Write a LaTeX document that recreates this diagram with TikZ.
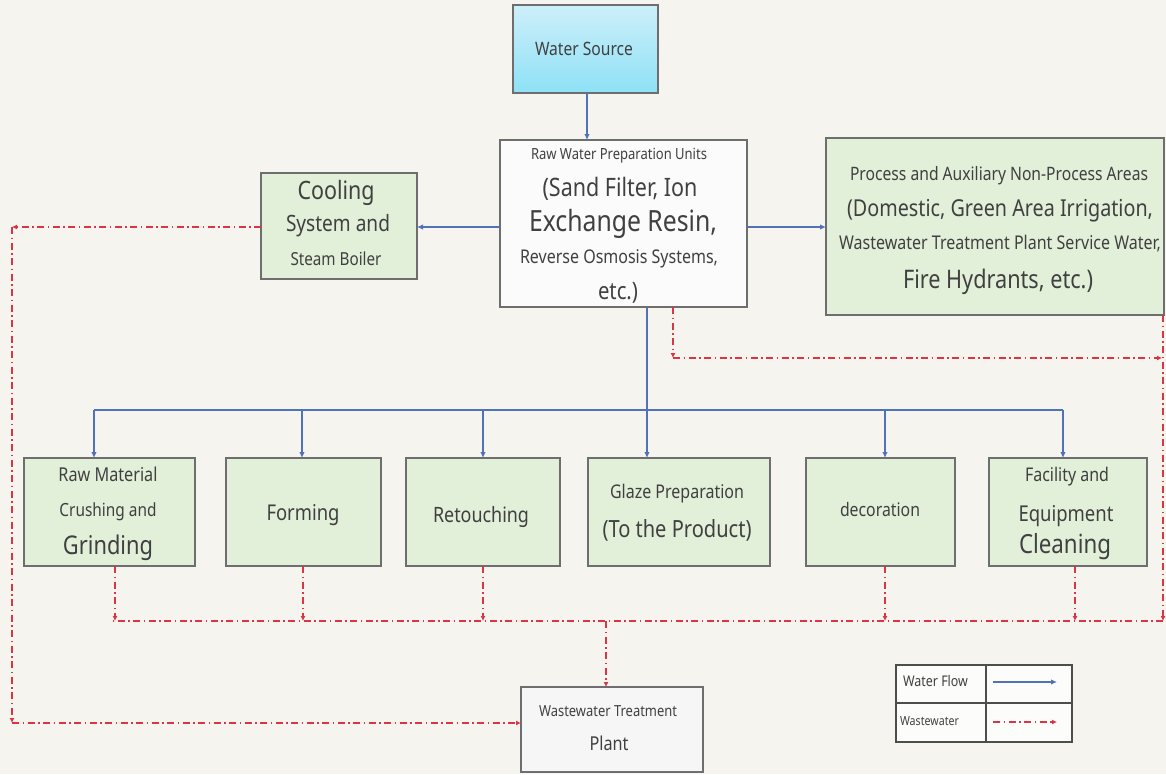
\documentclass[tikz,border=0pt]{standalone}
\usepackage{fontspec}
\usepackage{graphicx}
\setmainfont{Noto Sans}
\usetikzlibrary{arrows.meta}
\definecolor{bg}{HTML}{F6F4EF}
\definecolor{gfill}{HTML}{E2EFD9}
\definecolor{bord}{HTML}{6E6E6E}
\definecolor{wblue}{HTML}{5073B8}
\definecolor{wred}{HTML}{D93545}
\definecolor{txtc}{HTML}{404040}
\definecolor{cyantop}{HTML}{CDEFFA}
\definecolor{cyanbot}{HTML}{8EE1F6}
\newcommand{\fw}[2]{\scalebox{1}[1.18]{\resizebox{#1pt}{!}{\vphantom{Ag}#2}}}
\tikzset{
  gbox/.style={draw=bord, line width=1.4pt, fill=gfill, inner sep=0pt, outer sep=0pt},
  wbox/.style={draw=bord, line width=1.4pt, fill=white!97!gray, inner sep=0pt, outer sep=0pt},
  srcbox/.style={draw=bord, line width=1.4pt, top color=cyantop, bottom color=cyanbot, inner sep=0pt, outer sep=0pt},
  txt/.style={inner sep=0pt, outer sep=0pt, text=txtc, font=\fontsize{20}{24}\selectfont},
  flow/.style={draw=wblue, line width=2.2pt, -{Latex[length=6pt,width=5.5pt]}},
  flowline/.style={draw=wblue, line width=2.2pt},
  waste/.style={draw=wred, line width=1.9pt, dash pattern=on 7pt off 3.5pt on 1.5pt off 3.5pt, -{Latex[length=5pt,width=5pt]}},
  wasteline/.style={draw=wred, line width=1.9pt, dash pattern=on 7pt off 3.5pt on 1.5pt off 3.5pt}
}
\begin{document}
\begin{tikzpicture}[x=1pt,y=-1pt]
\fill[bg] (0,0) rectangle (1166,774);
\useasboundingbox (0,0) rectangle (1166,774);

% boxes
\node[srcbox, minimum width=145pt, minimum height=88pt] (src) at (585.5,49) {};
\node[wbox, minimum width=247pt, minimum height=167pt] (raw) at (623.5,223.5) {};
\node[gbox, minimum width=156pt, minimum height=106pt] (cool) at (339,226) {};
\node[gbox, minimum width=338pt, minimum height=177pt] (proc) at (995,226.5) {};
\node[gbox, minimum width=171pt, minimum height=108pt] (rm) at (109.5,512) {};
\node[gbox, minimum width=155pt, minimum height=108pt] (form) at (303.5,512) {};
\node[gbox, minimum width=154pt, minimum height=108pt] (ret) at (483,512) {};
\node[gbox, minimum width=182pt, minimum height=108pt] (glaze) at (679,512) {};
\node[gbox, minimum width=149pt, minimum height=108pt] (dec) at (880.5,512) {};
\node[gbox, minimum width=158pt, minimum height=108pt] (fac) at (1068,512) {};
\node[draw=bord, line width=1.4pt, fill=white!93!gray, inner sep=0pt, outer sep=0pt, minimum width=182pt, minimum height=85pt] (wwtp) at (612,729.5) {};

% texts
\node[txt] (t-src) at (584,51) {\fw{98}{Water Source}};
\node[txt] (t-raw1) at (619,156) {\fw{176}{Raw Water Preparation Units}};
\node[txt] (t-raw2) at (620,190) {\fw{155}{(Sand Filter, Ion}};
\node[txt] (t-raw3) at (623,224) {\fw{188}{Exchange Resin,}};
\node[txt] (t-raw4) at (619,259) {\fw{198}{Reverse Osmosis Systems,}};
\node[txt] (t-raw5) at (618,294) {\fw{40}{etc.)}};
\node[txt] (t-cool1) at (336,193) {\fw{77}{Cooling}};
\node[txt] (t-cool2) at (338,226) {\fw{104}{System and}};
\node[txt] (t-cool3) at (336,261) {\fw{91}{Steam Boiler}};
\node[txt] (t-proc1) at (999,176) {\fw{298}{Process and Auxiliary Non-Process Areas}};
\node[txt] (t-proc2) at (1000,211) {\fw{306}{(Domestic, Green Area Irrigation,}};
\node[txt] (t-proc3) at (1000,245) {\fw{322}{Wastewater Treatment Plant Service Water,}};
\node[txt] (t-proc4) at (998,282) {\fw{190}{Fire Hydrants, etc.)}};
\node[txt] (t-rm1) at (108,477) {\fw{99}{Raw Material}};
\node[txt] (t-rm2) at (108,512) {\fw{97}{Crushing and}};
\node[txt] (t-rm3) at (108,548) {\fw{90}{Grinding}};
\node[txt] (t-form) at (303,515) {\fw{73}{Forming}};
\node[txt] (t-ret) at (481,517) {\fw{96}{Retouching}};
\node[txt] (t-gl1) at (677,494) {\fw{134}{Glaze Preparation}};
\node[txt] (t-gl2) at (677,531) {\fw{149}{(To the Product)}};
\node[txt] (t-dec) at (880,512) {\fw{80}{decoration}};
\node[txt] (t-fac1) at (1067,477) {\fw{84}{Facility and}};
\node[txt] (t-fac2) at (1066,516) {\fw{95}{Equipment}};
\node[txt] (t-fac3) at (1065,547) {\fw{92}{Cleaning}};
\node[txt] (t-ww1) at (608,713) {\fw{138}{Wastewater Treatment}};
\node[txt] (t-ww2) at (609,746) {\fw{39}{Plant}};

% water flow
\draw[flow] (src.south -| 587,0) -- (raw.north -| 587,0);
\draw[flow] (raw.west |- 0,227) -- (cool.east |- 0,227);
\draw[flow] (raw.east |- 0,227) -- (proc.west |- 0,227);
\draw[flow] (raw.south -| 647,0) -- (glaze.north -| 647,0);
\coordinate (busL) at (94,410);
\coordinate (busR) at (1063,410);
\coordinate (b2) at (302,410);
\coordinate (b3) at (483,410);
\coordinate (b5) at (885,410);
\draw[flowline] (busL) -- (busR);
\draw[flow] (busL) -- (busL |- rm.north);
\draw[flow] (b2) -- (b2 |- form.north);
\draw[flow] (b3) -- (b3 |- ret.north);
\draw[flow] (b5) -- (b5 |- dec.north);
\draw[flow] (busR) -- (busR |- fac.north);

% wastewater
\coordinate (lc1) at (12,227);
\coordinate (lc2) at (12,723);
\draw[waste] (cool.west |- lc1) -- (lc1);
\draw[waste] (lc1) -- (lc2);
\draw[waste] (lc2) -- (wwtp.west |- lc2);

\coordinate (rc1) at (673,358);
\coordinate (rc2) at (1162,358);
\draw[waste] (raw.south -| rc1) -- (rc1);
\draw[waste] (rc1) -- (rc2);

\coordinate (hR) at (1163,621);
\coordinate (hL) at (113,621);
\coordinate (hM) at (606,621);
\draw[waste] (proc.south -| hR) -- (hR);
\draw[wasteline] (hR) -- (hL);
\draw[waste] (hM) -- (wwtp.north -| hM);

\coordinate (d1) at (115,621);
\coordinate (d2) at (303,621);
\coordinate (d3) at (483,621);
\coordinate (d5) at (885,621);
\coordinate (d6) at (1075,621);
\draw[waste] (rm.south -| d1) -- (d1);
\draw[waste] (form.south -| d2) -- (d2);
\draw[waste] (ret.south -| d3) -- (d3);
\draw[waste] (dec.south -| d5) -- (d5);
\draw[waste] (fac.south -| d6) -- (d6);

% legend
\node[draw=bord!70!black, line width=1.4pt, fill=white!70!bg, inner sep=0pt, outer sep=0pt, minimum width=176pt, minimum height=77pt] (leg) at (984,703.5) {};
\draw[bord!70!black, line width=1.4pt] (leg.north -| 986,0) -- (leg.south -| 986,0);
\draw[bord!70!black, line width=1.4pt] (leg.west |- 0,703) -- (leg.east |- 0,703);
\node[txt] (t-lg1) at (935.5,683) {\fw{65}{Water Flow}};
\node[txt] (t-lg2) at (929.5,722) {\fw{59}{Wastewater}};
\coordinate (la1) at (993,682);
\coordinate (la2) at (1057,682);
\coordinate (lb1) at (993,722);
\coordinate (lb2) at (1057,722);
\draw[flow] (la1) -- (la2);
\draw[waste] (lb1) -- (lb2);
\end{tikzpicture}
\end{document}
